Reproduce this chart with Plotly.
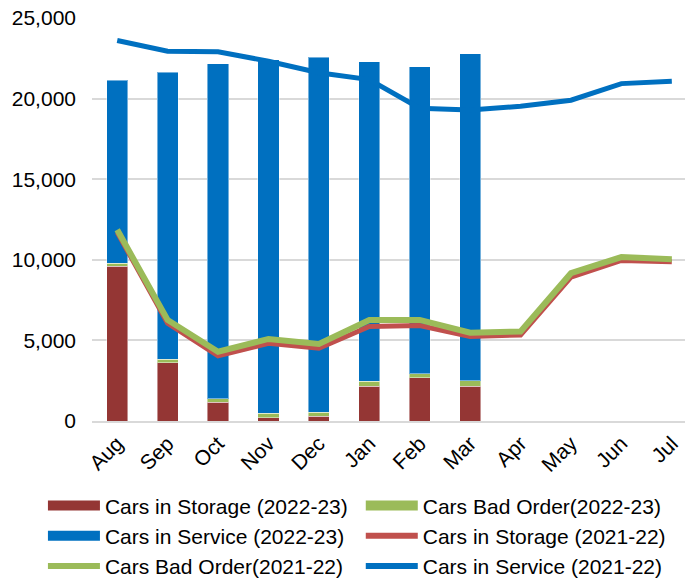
import plotly.graph_objects as go

months = ["Aug", "Sep", "Oct", "Nov", "Dec", "Jan", "Feb", "Mar", "Apr", "May", "Jun", "Jul"]

# 2022-23 (bars, stacked) - Aug..Mar
storage_2223 = [9600, 3600, 1150, 210, 310, 2170, 2690, 2170]
bad_order_2223 = [180, 220, 230, 270, 230, 290, 230, 330]
service_2223 = [11370, 17810, 20770, 21940, 22030, 19840, 19050, 20280]

# 2021-22 (lines) - Aug..Jul
storage_2122 = [11700, 6070, 4040, 4820, 4510, 5860, 5920, 5240, 5340, 8920, 9960, 9880]
bad_order_2122 = [11860, 6270, 4300, 5090, 4780, 6270, 6270, 5480, 5550, 9170, 10170, 10040]
service_2122 = [23600, 22940, 22900, 22320, 21600, 21180, 19400, 19300, 19520, 19900, 20930, 21070]

c_storage_bar = "#943634"
c_bad = "#9BBB59"
c_service = "#0070C0"
c_storage_line = "#C0504D"

font = "Liberation Sans, Arial, sans-serif"
bar_line = dict(color="rgba(255,255,255,0.45)", width=1)

fig = go.Figure()

# bars
fig.add_trace(go.Bar(x=months[:8], y=storage_2223, marker=dict(color=c_storage_bar, line=bar_line),
                     showlegend=False))
fig.add_trace(go.Bar(x=months[:8], y=bad_order_2223, marker=dict(color=c_bad, line=bar_line),
                     showlegend=False))
fig.add_trace(go.Bar(x=months[:8], y=service_2223, marker=dict(color=c_service, line=bar_line),
                     showlegend=False))

# lines
fig.add_trace(go.Scatter(x=months, y=storage_2122, mode="lines",
                         line=dict(color=c_storage_line, width=5), showlegend=False))
fig.add_trace(go.Scatter(x=months, y=bad_order_2122, mode="lines",
                         line=dict(color=c_bad, width=6), showlegend=False))
fig.add_trace(go.Scatter(x=months, y=service_2122, mode="lines",
                         line=dict(color=c_service, width=5), showlegend=False))

# legend entries (Excel-style swatches), split into two columns
legend_items = [
    ("Cars in Storage (2022-23)", c_storage_bar, 12, "legend"),
    ("Cars Bad Order(2022-23)", c_bad, 12, "legend2"),
    ("Cars in Service (2022-23)", c_service, 12, "legend"),
    ("Cars in Storage (2021-22)", c_storage_line, 6, "legend2"),
    ("Cars Bad Order(2021-22)", c_bad, 6, "legend"),
    ("Cars in Service (2021-22)", c_service, 6, "legend2"),
]
for name, col, w, leg in legend_items:
    fig.add_trace(go.Scatter(x=[None], y=[None], mode="lines", name=name, legend=leg,
                             line=dict(color=col, width=w)))

legend_style = dict(
    orientation="v",
    xref="container", yref="container",
    y=0.164, xanchor="left", yanchor="top",
    itemwidth=52,
    font=dict(size=21),
    traceorder="normal",
    bgcolor="rgba(0,0,0,0)",
)

# page body adds an 8px margin, so the figure is 8px smaller each way
fig.update_layout(
    width=685,
    height=571,
    margin=dict(l=84, r=0, t=10, b=158, autoexpand=False),
    paper_bgcolor="white",
    plot_bgcolor="white",
    barmode="stack",
    bargap=0.58,
    font=dict(family=font, size=21, color="#000000"),
    legend=dict(legend_style, x=0.051),
    legend2=dict(legend_style, x=0.515),
)
fig.update_xaxes(
    range=[-0.5, 11.42],
    tickangle=-45,
    showgrid=False,
    showline=True,
    linecolor="#d9d9d9",
    linewidth=2,
    ticks="",
    tickfont=dict(size=21),
    automargin=False,
)
fig.update_yaxes(
    range=[0, 25000],
    tickvals=[0, 5000, 10000, 15000, 20000, 25000],
    tickformat=",d",
    showgrid=True,
    gridcolor="#d9d9d9",
    gridwidth=1.5,
    zeroline=False,
    ticklabelstandoff=15,
    ticklabeloverflow="allow",
    tickfont=dict(size=21),
    automargin=False,
)

fig.write_html("out.html")
